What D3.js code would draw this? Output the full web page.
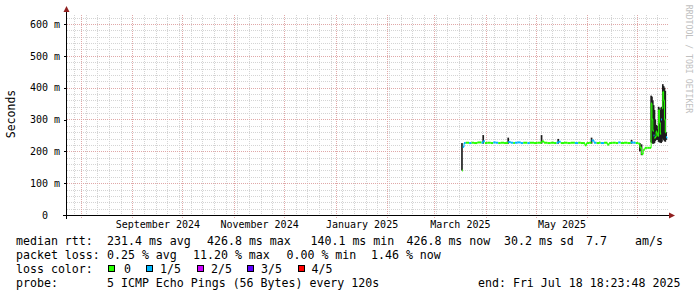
<!DOCTYPE html>
<html>
<head>
<meta charset="utf-8">
<script src="https://cdn.jsdelivr.net/npm/d3@7"></script>
<style>
  html, body { margin: 0; padding: 0; background: #fff; }
  svg { display: block; font-family: "DejaVu Sans Mono", monospace; }
</style>
</head>
<body>
<svg id="chart" width="697" height="297"></svg>
<script>
// ========== Data ==========

const endTime = "2025-07-18 18:23";
const spanDays = 360;

// median rtt samples (ms) and packet loss level (0..4 out of 5)
const medianDates = [
  "2025-03-17 18:00", "2025-03-18 06:00", "2025-03-19", "2025-03-20", "2025-03-22",
  "2025-03-23 12:00", "2025-03-25", "2025-03-27", "2025-03-29 12:00", "2025-03-30 12:00",
  "2025-03-31 12:00", "2025-04-02", "2025-04-04", "2025-04-05 12:00", "2025-04-07",
  "2025-04-08 12:00", "2025-04-10", "2025-04-12", "2025-04-14 12:00", "2025-04-16",
  "2025-04-17 12:00", "2025-04-18 12:00", "2025-04-20", "2025-04-22", "2025-04-23 12:00",
  "2025-04-26", "2025-04-27 12:00", "2025-04-30", "2025-05-02", "2025-05-04 12:00",
  "2025-05-06", "2025-05-08", "2025-05-10", "2025-05-12", "2025-05-13 12:00",
  "2025-05-14 12:00", "2025-05-16", "2025-05-18", "2025-05-20", "2025-05-22",
  "2025-05-24 12:00", "2025-05-26 12:00", "2025-05-28", "2025-05-30 12:00", "2025-05-31 12:00",
  "2025-06-02", "2025-06-03 12:00", "2025-06-05", "2025-06-06 12:00", "2025-06-08",
  "2025-06-09", "2025-06-11", "2025-06-13", "2025-06-14", "2025-06-16",
  "2025-06-18", "2025-06-19 12:00", "2025-06-21", "2025-06-23", "2025-06-25",
  "2025-06-27", "2025-06-28 12:00", "2025-06-30", "2025-07-01 12:00", "2025-07-02 12:00",
  "2025-07-03 12:00", "2025-07-04 12:00", "2025-07-05 12:00", "2025-07-07", "2025-07-08 12:00",
  "2025-07-09 06:00", "2025-07-09 18:00", "2025-07-10 06:00", "2025-07-10 18:00", "2025-07-11 06:00",
  "2025-07-11 18:00", "2025-07-12 06:00", "2025-07-12 18:00", "2025-07-13 06:00", "2025-07-13 18:00",
  "2025-07-14 06:00", "2025-07-14 18:00", "2025-07-15 06:00", "2025-07-15 18:00", "2025-07-16 06:00",
  "2025-07-16 18:00", "2025-07-17 06:00", "2025-07-17 18:00", "2025-07-18 06:00", "2025-07-18 18:00"
];
const medianMs = [
  140.1, 214, 226, 227, 226,
  227, 226, 228, 227, 232,
  226, 227, 226, 228, 227,
  226, 227, 226, 229, 227,
  226, 227, 228, 226, 227,
  226, 227, 226, 227, 231,
  227, 226, 227, 226, 227,
  230, 226, 227, 226, 227,
  226, 227, 226, 219, 226,
  227, 234, 227, 226, 227,
  226, 227, 221, 226, 227,
  226, 228, 226, 227, 226,
  228, 227, 226, 225, 212,
  191, 205, 211, 211, 211,
  350, 300, 265, 250, 242,
  245, 262, 255, 248, 330,
  290, 255, 300, 335, 387,
  360, 300, 260, 245, 240
];
const lossLevel = [
  0, 1, 1, 0, 1,
  0, 0, 0, 1, 1,
  0, 0, 0, 1, 1,
  0, 0, 0, 1, 1,
  0, 1, 1, 1, 0,
  1, 0, 0, 0, 0,
  0, 0, 0, 0, 1,
  1, 0, 0, 0, 0,
  1, 0, 0, 0, 0,
  0, 1, 1, 0, 0,
  1, 0, 0, 0, 0,
  0, 1, 0, 0, 0,
  1, 1, 0, 0, 0,
  0, 0, 0, 0, 0,
  0, 0, 0, 1, 0,
  0, 0, 0, 0, 0,
  0, 0, 1, 0, 0,
  0, 0, 0, 1, 1
];

// smoke (spread of the individual pings), only where it shows
const smokeDates = [
  "2025-03-17 18:00", "2025-03-30 12:00", "2025-04-14 12:00", "2025-05-04 12:00", "2025-05-14 12:00",
  "2025-06-03 12:00", "2025-06-27 12:00", "2025-07-02 12:00", "2025-07-03 12:00",
  "2025-07-09 06:00", "2025-07-09 18:00", "2025-07-10 06:00", "2025-07-10 18:00", "2025-07-11 06:00",
  "2025-07-11 18:00", "2025-07-12 06:00", "2025-07-12 18:00", "2025-07-13 06:00", "2025-07-13 18:00",
  "2025-07-14 06:00", "2025-07-14 18:00", "2025-07-15 06:00", "2025-07-15 18:00", "2025-07-16 06:00",
  "2025-07-16 18:00", "2025-07-17 06:00", "2025-07-17 18:00", "2025-07-18 06:00"
];
const smokeLowMs = [
  140, 224, 224, 224, 224,
  224, 224, 200, 188,
  228, 226, 224, 224, 226,
  232, 236, 236, 236, 230,
  228, 228, 226, 230, 240,
  236, 232, 230, 236
];
const smokeHighMs = [
  226, 251, 243, 251, 239,
  243, 236, 226, 222,
  375, 372, 360, 345, 330,
  300, 283, 280, 270, 340,
  335, 330, 338, 340, 411,
  405, 400, 390, 260
];

const yTicksMs = [0, 100, 200, 300, 400, 500, 600];
const monthLabels = ["2024-09", "2024-11", "2025-01", "2025-03", "2025-05"];

const lossNames = ["0", "1/5", "2/5", "3/5", "4/5"];
const lossColors = ["#26ff00", "#00b8ff", "#cc00ff", "#5e00ff", "#ff0000"];

const rttStats = ["231.4 ms avg", "426.8 ms max", "140.1 ms min", "426.8 ms now", "30.2 ms sd", "7.7", "am/s"];
const lossStats = ["0.25 % avg", "11.20 % max", "0.00 % min", "1.46 % now"];
const probeText = "5 ICMP Echo Pings (56 Bytes) every 120s";
const endText = "end: Fri Jul 18 18:23:48 2025";

// ========== Helpers ==========

const parseFull = d3.timeParse("%Y-%m-%d %H:%M");
const parseDay = d3.timeParse("%Y-%m-%d");
const parseMonth = d3.timeParse("%Y-%m");
function parseDate(s) {
  return parseFull(s) || parseDay(s);
}

// ========== Layout ==========

const plot = { left: 67, right: 667, top: 15, bottom: 215 };
const svg = d3.select("#chart");

const end = parseDate(endTime);
const start = d3.timeDay.offset(end, -spanDays);

const x = d3.scaleTime().domain([start, end]).range([plot.left, plot.right]);
const y = d3.scaleLinear()
  .domain([0, (plot.bottom - plot.top) / 191 * 600])
  .range([plot.bottom, plot.top]);

const crisp = v => Math.round(v) + 0.5;

// ========== Grid ==========

const grid = svg.append("g").attr("shape-rendering", "crispEdges");

const minorY = d3.range(20, y.domain()[1], 20).filter(v => v % 100 !== 0);
grid.selectAll(".hminor")
  .data(minorY)
  .join("line")
  .attr("x1", plot.left).attr("x2", plot.right + 1)
  .attr("y1", d => crisp(y(d))).attr("y2", d => crisp(y(d)))
  .attr("stroke", "#d4d4d4")
  .attr("stroke-dasharray", "1,1");

const weeks = d3.timeWeek.range(start, end);
grid.selectAll(".vminor")
  .data(weeks)
  .join("line")
  .attr("x1", d => crisp(x(d))).attr("x2", d => crisp(x(d)))
  .attr("y1", plot.top).attr("y2", plot.bottom)
  .attr("stroke", "#d4d4d4")
  .attr("stroke-dasharray", "1,1");

grid.selectAll(".hmajor")
  .data(yTicksMs.filter(v => v > 0))
  .join("line")
  .attr("x1", plot.left).attr("x2", plot.right + 1)
  .attr("y1", d => crisp(y(d))).attr("y2", d => crisp(y(d)))
  .attr("stroke", "#e0a8a8")
  .attr("stroke-dasharray", "1,1");

const months = d3.timeMonth.range(d3.timeMonth.ceil(start), end);
grid.selectAll(".vmajor")
  .data(months)
  .join("line")
  .attr("x1", d => crisp(x(d))).attr("x2", d => crisp(x(d)))
  .attr("y1", plot.top).attr("y2", plot.bottom + 3)
  .attr("stroke", "#e0a8a8")
  .attr("stroke-dasharray", "1,1");

// ========== Smoke and median ==========

const smoke = smokeDates.map((d, i) => ({
  date: parseDate(d), lo: smokeLowMs[i], hi: smokeHighMs[i]
}));
const dayPx = x(d3.timeDay.offset(start, 1)) - x(start);

svg.append("g")
  .selectAll("rect")
  .data(smoke)
  .join("rect")
  .attr("x", d => x(d.date) - dayPx / 2)
  .attr("width", dayPx)
  .attr("y", d => y(d.hi))
  .attr("height", d => y(d.lo) - y(d.hi))
  .attr("fill", "#1e1e1e");

const points = medianDates.map((d, i) => ({
  date: parseDate(d), ms: medianMs[i], loss: lossLevel[i]
}));
const pairs = d3.pairs(points);
const median = svg.append("g").attr("fill", "none");

// each loss colour is its own series: steps join only samples of the same colour
median.selectAll(".step")
  .data(pairs)
  .join("path")
  .attr("d", ([a, b]) => d3.line()([[x(a.date), y(a.ms)], [x(b.date), y(a.ms)]]))
  .attr("stroke", ([a]) => lossColors[a.loss])
  .attr("stroke-width", 2);

median.selectAll(".rise")
  .data(pairs.filter(([a, b]) => a.loss === b.loss))
  .join("path")
  .attr("d", ([a, b]) => d3.line()([[x(b.date), y(a.ms)], [x(b.date), y(b.ms)]]))
  .attr("stroke", ([a]) => lossColors[a.loss])
  .attr("stroke-width", 1);

// ========== Axes ==========

const yAxis = svg.append("g")
  .attr("transform", `translate(${plot.left},0)`)
  .call(d3.axisLeft(y)
    .tickValues(yTicksMs)
    .tickSizeInner(3)
    .tickSizeOuter(0)
    .tickPadding(4)
    .tickFormat(d => d === 0 ? "0" : `${d} m`));
yAxis.select(".domain").remove();
yAxis.selectAll("line").attr("stroke", "#000").attr("shape-rendering", "crispEdges");
yAxis.selectAll("text")
  .attr("font-family", "DejaVu Sans Mono")
  .attr("font-size", 10)
  .attr("fill", "#000")
  .filter(d => d === 0)
  .attr("dx", -12);

const labelDates = monthLabels.map(m => {
  const a = parseMonth(m);
  return new Date((+a + +d3.timeMonth.offset(a, 1)) / 2);
});
const xAxis = svg.append("g")
  .attr("transform", `translate(0,${plot.bottom})`)
  .call(d3.axisBottom(x)
    .tickValues(labelDates)
    .tickSize(0)
    .tickPadding(6)
    .tickFormat(d3.timeFormat("%B %Y")));
xAxis.select(".domain").remove();
xAxis.selectAll("text")
  .attr("font-family", "DejaVu Sans Mono")
  .attr("font-size", 10)
  .attr("fill", "#000");

// axis lines with arrows
svg.append("line")
  .attr("x1", plot.left - 4).attr("x2", plot.right + 3)
  .attr("y1", crisp(plot.bottom)).attr("y2", crisp(plot.bottom))
  .attr("stroke", "#000").attr("shape-rendering", "crispEdges");
svg.append("line")
  .attr("x1", crisp(plot.left - 1)).attr("x2", crisp(plot.left - 1))
  .attr("y1", plot.top - 4).attr("y2", plot.bottom + 4)
  .attr("stroke", "#000").attr("shape-rendering", "crispEdges");
svg.append("path")
  .attr("d", `M${plot.right + 8},${plot.bottom + 0.5} L${plot.right + 2},${plot.bottom - 2.5} L${plot.right + 2},${plot.bottom + 3.5} Z`)
  .attr("fill", "#902020");
svg.append("path")
  .attr("d", `M${plot.left - 0.5},${plot.top - 9} L${plot.left - 3.5},${plot.top - 3} L${plot.left + 2.5},${plot.top - 3} Z`)
  .attr("fill", "#902020");

// y title
svg.append("text")
  .attr("transform", "translate(15,114) rotate(-90)")
  .attr("text-anchor", "middle")
  .attr("font-size", 11.5)
  .text("Seconds");

// watermark
svg.append("text")
  .attr("transform", "translate(685.5,59) rotate(90)")
  .attr("text-anchor", "middle")
  .attr("font-size", 8.2)
  .attr("fill", "#c0c0c0")
  .text("RRDTOOL / TOBI OETIKER");

// ========== Legend ==========

const legend = svg.append("g").attr("font-size", 11.6).attr("fill", "#000");
const rowY = [245, 259, 273, 287];
const rttX = [107, 207, 310.5, 406.5, 504, 586, 635];
const lossX = [107, 193, 286.5, 371];
const boxX = [108, 146, 197, 247, 297.5];

legend.append("text").attr("x", 16).attr("y", rowY[0]).text("median rtt:");
legend.selectAll(".rtt").data(rttStats).join("text")
  .attr("x", (d, i) => rttX[i]).attr("y", rowY[0]).text(d => d);

legend.append("text").attr("x", 16).attr("y", rowY[1]).text("packet loss:");
legend.selectAll(".loss").data(lossStats).join("text")
  .attr("x", (d, i) => lossX[i]).attr("y", rowY[1]).text(d => d);

legend.append("text").attr("x", 16).attr("y", rowY[2]).text("loss color:");
const items = legend.selectAll(".item").data(lossNames).join("g");
items.append("rect")
  .attr("x", (d, i) => boxX[i] + 0.5).attr("y", rowY[2] - 7.5)
  .attr("width", 6).attr("height", 6)
  .attr("fill", (d, i) => lossColors[i])
  .attr("stroke", "#000").attr("shape-rendering", "crispEdges");
items.append("text")
  .attr("x", (d, i) => boxX[i] + (i === 0 ? 16 : 14)).attr("y", rowY[2])
  .text(d => d);

legend.append("text").attr("x", 16).attr("y", rowY[3]).text("probe:");
legend.append("text").attr("x", 107).attr("y", rowY[3]).text(probeText);
legend.append("text").attr("x", 478).attr("y", rowY[3]).text(endText);
</script>
</body>
</html>
